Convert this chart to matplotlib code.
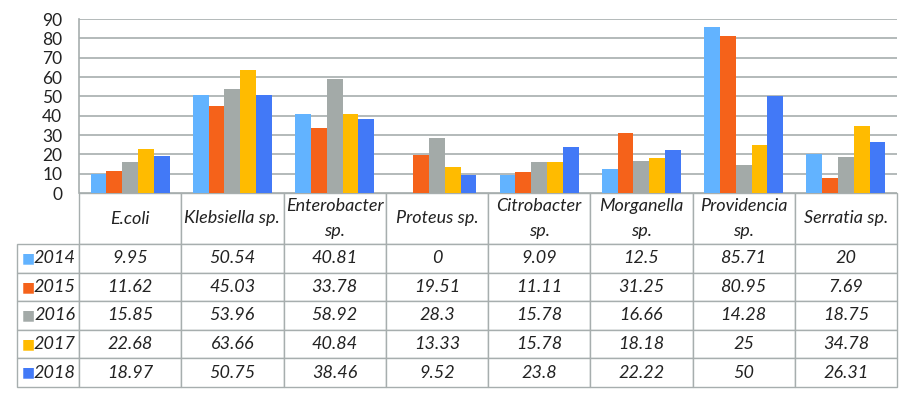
import matplotlib.pyplot as plt
import numpy as np

# bacteria (columns of the table)
bacteria = ['E.coli', 'Klebsiella sp.', 'Enterobacter\nsp.', 'Proteus sp.',
            'Citrobacter\nsp.', 'Morganella\nsp.', 'Providencia\nsp.',
            'Serratia sp.']
years = ['2014', '2015', '2016', '2017', '2018']

v2014 = [9.95, 50.54, 40.81, 0, 9.09, 12.5, 85.71, 20]
v2015 = [11.62, 45.03, 33.78, 19.51, 11.11, 31.25, 80.95, 7.69]
v2016 = [15.85, 53.96, 58.92, 28.3, 15.78, 16.66, 14.28, 18.75]
v2017 = [22.68, 63.66, 40.84, 13.33, 15.78, 18.18, 25, 34.78]
v2018 = [18.97, 50.75, 38.46, 9.52, 23.8, 22.22, 50, 26.31]

colors = ['#62B3FF', '#F5621A', '#A3AAA8', '#FFBB00', '#4279F7']
grid_col = '#A7AEAE'

series = [v2014, v2015, v2016, v2017, v2018]

plt.rcParams['font.family'] = ['Lato', 'DejaVu Sans']

fig = plt.figure(figsize=(9.12, 3.96), dpi=100)
W, H = 912, 396
x0, x1, ytop, ybot = 79, 897, 19, 193
ax = fig.add_axes([x0 / W, 1 - ybot / H, (x1 - x0) / W, (ybot - ytop) / H])

x = np.arange(len(bacteria))
bw = 0.155
for i, vals in enumerate(series):
    ax.bar(x + (i - 2) * bw, vals, bw, color=colors[i], zorder=3)

ax.set_xlim(-0.5, len(bacteria) - 0.5)
ax.set_ylim(0, 90)
ax.set_yticks(range(0, 91, 10))
ax.yaxis.grid(True, color=grid_col, lw=1.2, zorder=0)
ax.set_xticks([])
ax.tick_params(axis='y', length=0, pad=12, labelsize=12.5, colors='#222222')
for s in ['top', 'right', 'bottom']:
    ax.spines[s].set_visible(False)
ax.spines['left'].set_color(grid_col)
ax.spines['left'].set_linewidth(1.2)

# data table under the bars
cell_text = []
for y, vals in zip(years, series):
    cell_text.append([y] + [('%g' % v) for v in vals])

tab_left = 17
tab_bottom = 387
hdr_h = 51
row_h = (tab_bottom - ybot - hdr_h) / len(years)
axw = x1 - x0
axh = ybot - ytop

tbl = ax.table(cellText=cell_text, colLabels=[''] + bacteria,
               cellLoc='center', colLoc='center',
               bbox=[(tab_left - x0) / axw, -(tab_bottom - ybot) / axh,
                     (x1 - tab_left) / axw, (tab_bottom - ybot) / axh])
tbl.auto_set_font_size(False)
col_w = [x0 - tab_left] + [axw / len(bacteria)] * len(bacteria)
for (r, c), cell in tbl.get_celld().items():
    cell.set_width(col_w[c])
    cell.set_height(hdr_h if r == 0 else row_h)
    cell.set_edgecolor(grid_col)
    cell.set_linewidth(1.0)
    cell.get_text().set_fontsize(13)
    cell.get_text().set_fontstyle('italic')
    cell.get_text().set_color('#222222')
    if r == 0:
        cell.get_text().set_linespacing(1.75)
    if r == 0 and c == 0:
        cell.visible_edges = ''
    if c == 0 and r > 0:
        cell.get_text().set_ha('right')
        cell.PAD = 0.05
        cell._loc = 'right'

# colored keys in front of the years
for i, col in enumerate(colors):
    yc = ybot + hdr_h + row_h * (i + 0.5)
    ax.text((28.5 - x0) / axw, -(yc - ybot) / axh, '\u25A0', color=col,
            fontsize=10, family='DejaVu Sans', ha='center', va='center',
            transform=ax.transAxes, clip_on=False)

fig.savefig('out.png', dpi=100)
